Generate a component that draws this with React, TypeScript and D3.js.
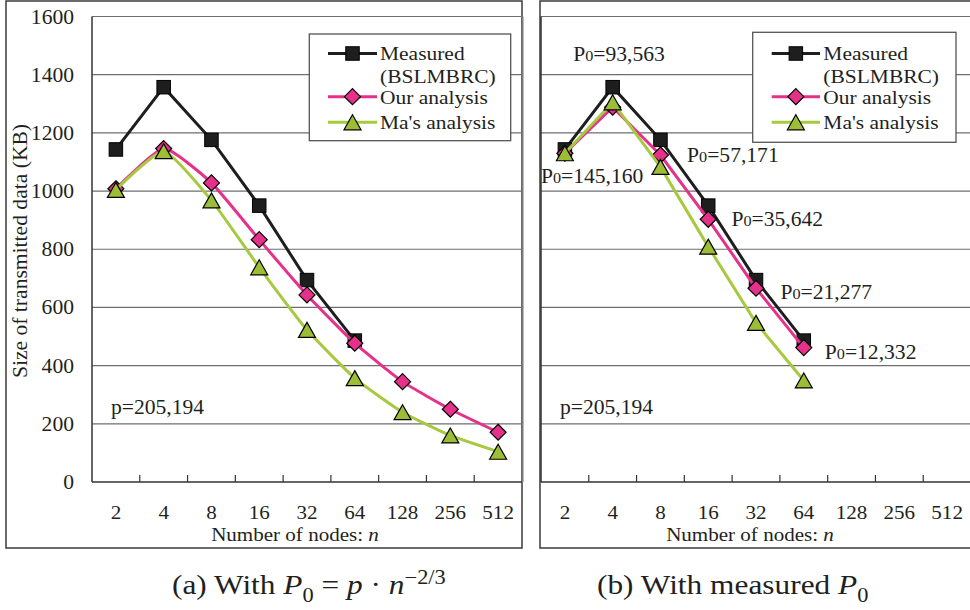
import React from "react";
import * as d3 from "d3";

// ---------- data ----------
const categories = ["2", "4", "8", "16", "32", "64", "128", "256", "512"];
const yTicks = [0, 200, 400, 600, 800, 1000, 1200, 1400, 1600];

const measured = [1143, 1357, 1176, 950, 694, 486];
const oursA = [1008, 1146, 1028, 833, 643, 477, 345, 250, 171];
const masA = [1004, 1137, 968, 738, 523, 357, 240, 160, 104];
const oursB = [1130, 1288, 1124, 903, 666, 462];
const masB = [1130, 1305, 1083, 809, 547, 349];

const p0Values = ["145,160", "93,563", "57,171", "35,642", "21,277", "12,332"];
const pLabel = "p=205,194";
const legendNames = ["Measured", "(BSLMBRC)", "Our analysis", "Ma's analysis"];

// ---------- style ----------
const FONT = "Liberation Serif, Times New Roman, serif";
const TXT = "#231f20";
const C_MEAS = "#1e1e1e";
const C_OURS = "#e6318b";
const C_MAS = "#a6c940";
const C_MAS_FILL = "#9cbd35";
const SX = 1.08;

function T({ x, y, size = 20, sx = SX, anchor = "start", rotate = 0, children, italic = false }: any) {
  const tr = `translate(${x},${y})` + (rotate ? ` rotate(${rotate})` : "") + ` scale(${sx},1)`;
  return (
    <text transform={tr} textAnchor={anchor} fill={TXT}
      style={{ fontFamily: FONT, fontSize: size, fontStyle: italic ? "italic" : "normal" }}>
      {children}
    </text>
  );
}

const y = d3.scaleLinear().domain([0, 1600]).range([482, 16.5]);

function Square({ cx, cy }: any) {
  const s = 13.5;
  return <rect x={cx - s / 2} y={cy - s / 2} width={s} height={s} fill={C_MEAS} stroke="#000" strokeWidth={1} />;
}
function Diamond({ cx, cy }: any) {
  const r = 8;
  return <path d={`M${cx},${cy - r}L${cx + r},${cy}L${cx},${cy + r}L${cx - r},${cy}Z`} fill={C_OURS} stroke="#000" strokeWidth={1.2} />;
}
function Tri({ cx, cy }: any) {
  const h = 7.5, w = 8.5;
  return <path d={`M${cx},${cy - h}L${cx + w},${cy + h}L${cx - w},${cy + h}Z`} fill={C_MAS_FILL} stroke="#000" strokeWidth={1.2} />;
}

function Legend({ x0, x1, y0, y1, lx0, lx1, tx }: any) {
  const mx = (lx0 + lx1) / 2;
  const rows = [53.5, 96.7, 122.3];
  const ls = 19, lsx = 1.13;
  return (
    <g>
      <rect x={x0} y={y0} width={x1 - x0} height={y1 - y0} fill="#fff" stroke="#555" strokeWidth={1.3} />
      <line x1={lx0} x2={lx1} y1={rows[0]} y2={rows[0]} stroke={C_MEAS} strokeWidth={3} />
      <Square cx={mx} cy={rows[0]} />
      <line x1={lx0} x2={lx1} y1={rows[1]} y2={rows[1]} stroke={C_OURS} strokeWidth={3} />
      <Diamond cx={mx} cy={rows[1]} />
      <line x1={lx0} x2={lx1} y1={rows[2]} y2={rows[2]} stroke={C_MAS} strokeWidth={3} />
      <Tri cx={mx} cy={rows[2]} />
      <T x={tx} y={60} size={ls} sx={lsx}>{legendNames[0]}</T>
      <T x={tx} y={82.8} size={ls} sx={lsx}>{legendNames[1]}</T>
      <T x={tx} y={104.2} size={ls} sx={lsx}>{legendNames[2]}</T>
      <T x={tx} y={129} size={ls} sx={lsx}>{legendNames[3]}</T>
    </g>
  );
}

function Panel({ left, right, frame, ours, mas, smooth, yLabels, titleX }: any) {
  const x = d3.scaleBand().domain(categories).range([left, right]).padding(0);
  const bw = x.bandwidth();
  const cx = (i: number) => (x(categories[i]) as number) + bw / 2;
  const curve = smooth ? d3.curveCardinal.tension(0.5) : d3.curveLinear;
  const line = (vals: number[], c: any) =>
    d3.line<number>().x((_, i) => cx(i)).y((d) => y(d)).curve(c)(vals) as string;
  return (
    <g>
      <rect x={frame[0]} y={frame[1]} width={frame[2]} height={frame[3]} fill="#fff" stroke="#3a3a3a" strokeWidth={1.5} />
      {yTicks.slice(1).map((t) => (
        <line key={t} x1={left} x2={right} y1={y(t)} y2={y(t)} stroke="#6e6e6e" strokeWidth={1.2} />
      ))}
      <line x1={right + 1} x2={right + 1} y1={y(1600)} y2={y(0)} stroke="#8a8a8a" strokeWidth={1.2} />
      <line x1={left} x2={left} y1={y(1600)} y2={y(0)} stroke="#333" strokeWidth={1.5} />
      <line x1={left} x2={right} y1={y(0)} y2={y(0)} stroke="#333" strokeWidth={1.5} />
      {categories.slice(1).map((c) => (
        <line key={c} x1={x(c) as number} x2={x(c) as number} y1={y(0)} y2={y(0) - 7} stroke="#333" strokeWidth={1.2} />
      ))}
      {yLabels &&
        yTicks.map((t) => (
          <T key={t} x={74} y={y(t) + 7} anchor="end">{String(t)}</T>
        ))}
      {categories.map((c, i) => (
        <T key={c} x={cx(i)} y={518.5} size={19.5} anchor="middle">{c}</T>
      ))}
      <T x={titleX} y={541} size={19.5} anchor="middle">
        Number of nodes: <tspan fontStyle="italic">n</tspan>
      </T>
      {/* Measured */}
      <path d={line(measured, d3.curveLinear)} fill="none" stroke={C_MEAS} strokeWidth={3} />
      {measured.map((v, i) => <Square key={i} cx={cx(i)} cy={y(v)} />)}
      {/* Our analysis */}
      <path d={line(ours, curve)} fill="none" stroke={C_OURS} strokeWidth={3} />
      {ours.map((v: number, i: number) => <Diamond key={i} cx={cx(i)} cy={y(v)} />)}
      {/* Ma's analysis */}
      <path d={line(mas, curve)} fill="none" stroke={C_MAS} strokeWidth={3} />
      {mas.map((v: number, i: number) => <Tri key={i} cx={cx(i)} cy={y(v)} />)}
      <T x={left + 19} y={414}>{pLabel}</T>
    </g>
  );
}

const xB = d3.scaleBand().domain(categories).range([541, 971]).padding(0);
const cxB = (i: number) => (xB(categories[i]) as number) + xB.bandwidth() / 2;
// label offsets relative to measured points (layout only)
const p0Offsets = [
  [-24, 34],
  [-39.5, -26.6],
  [26.6, 22.4],
  [23.2, 20.7],
  [24.4, 18.5],
  [21, 18.8],
];

export default function App() {
  return (
    <svg width={970} height={610} style={{ position: "absolute", left: 0, top: 0, background: "#fff" }}>
      <rect x={0} y={0} width={970} height={610} fill="#fff" />
      <Panel left={92} right={522} frame={[6, 1, 516, 547]} ours={oursA} mas={masA} smooth yLabels titleX={295} />
      <Legend x0={309.3} x1={510.7} y0={34} y1={140.7} lx0={328} lx1={377} tx={380} />
      <T x={27} y={251} anchor="middle" rotate={-90}>Size of transmitted data (KB)</T>

      <Panel left={541} right={971} frame={[540, 1, 440, 547]} ours={oursB} mas={masB} smooth={false} yLabels={false} titleX={750} />
      <Legend x0={752.7} x1={956} y0={32.3} y1={142.3} lx0={771.7} lx1={820} tx={823.3} />
      {p0Values.map((v, i) => (
        <T key={v} x={cxB(i) + p0Offsets[i][0]} y={y(measured[i]) + p0Offsets[i][1]}>
          P<tspan fontSize={15}>0</tspan>={v}
        </T>
      ))}

      <T x={172} y={594} size={28} sx={1.12}>
        (a) With <tspan fontStyle="italic">P</tspan>
        <tspan fontSize={20} dy={8}>0</tspan>
        <tspan dy={-8}> = </tspan>
        <tspan fontStyle="italic">p</tspan> · <tspan fontStyle="italic">n</tspan>
        <tspan fontSize={20} dy={-10}>−2/3</tspan>
      </T>
      <T x={597} y={594} size={28} sx={1.12}>
        (b) With measured <tspan fontStyle="italic">P</tspan>
        <tspan fontSize={20} dy={8}>0</tspan>
      </T>
    </svg>
  );
}
